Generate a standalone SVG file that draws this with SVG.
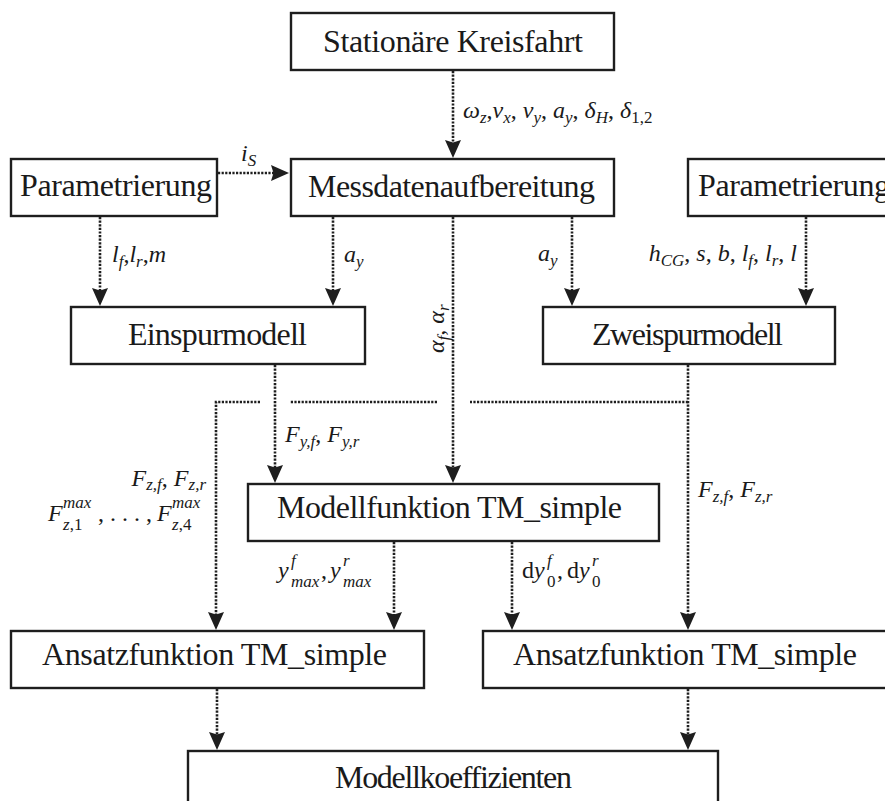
<svg xmlns="http://www.w3.org/2000/svg" width="885" height="801" viewBox="0 0 885 801">
  <style>
    .box { fill: #ffffff; stroke: #1e1e1e; stroke-width: 2.4; }
    .lbl { font-family: "Liberation Serif", "DejaVu Serif", serif; font-size: 32px; fill: #1a1a1a; }
    .m { font-family: "Liberation Serif", "DejaVu Serif", serif; font-style: italic; font-size: 24px; fill: #1a1a1a; }
    .s { font-size: 17px; }
    .up { font-style: normal; }
    .link { fill: none; stroke: #1e1e1e; stroke-width: 2.6; stroke-dasharray: 2.2 1.4; marker-end: url(#head); }
    .plain { fill: none; stroke: #1e1e1e; stroke-width: 2.6; stroke-dasharray: 2.2 1.4; }
  </style>
  <defs>
    <marker id="head" markerUnits="userSpaceOnUse" markerWidth="22" markerHeight="22" refX="13" refY="0" viewBox="-1 -10 22 20" orient="auto" overflow="visible">
      <path d="M18,0 L0,-8 L2.5,0 L0,8 Z" fill="#1e1e1e"/>
    </marker>
  </defs>

  <rect width="885" height="801" fill="#ffffff"/>

  <!-- connectors -->
  <g id="connectors">
    <path class="link" d="M453,71 V153"/>
    <path class="link" d="M218,173 H284"/>
    <path class="link" d="M100,217 V301"/>
    <path class="link" d="M333,217 V301"/>
    <path class="link" d="M453,217 V478"/>
    <path class="link" d="M572,217 V301"/>
    <path class="link" d="M806,217 V301"/>
    <path class="link" d="M275,365 V478"/>
    <path class="link" d="M688,365 V625"/>
    <path class="plain" d="M688,402 H470"/>
    <path class="plain" d="M437,402 H290"/>
    <path class="link" d="M260,402 H216 V625"/>
    <path class="link" d="M394,542 V625"/>
    <path class="link" d="M512,542 V625"/>
    <path class="link" d="M217,689 V745"/>
    <path class="link" d="M688,689 V745"/>
  </g>

  <!-- connector labels -->
  <g id="labels">
    <text class="m" x="463" y="118">ω<tspan class="s" dy="5">z</tspan><tspan class="up" dy="-5">,</tspan>v<tspan class="s" dy="5">x</tspan><tspan class="up" dy="-5">, </tspan>v<tspan class="s" dy="5">y</tspan><tspan class="up" dy="-5">, </tspan>a<tspan class="s" dy="5">y</tspan><tspan class="up" dy="-5">, </tspan>δ<tspan class="s" dy="5">H</tspan><tspan class="up" dy="-5">, </tspan>δ<tspan class="s up" dy="5">1,2</tspan></text>
    <text class="m" x="241" y="161">i<tspan class="s" dy="5">S</tspan></text>
    <text class="m" x="112" y="262">l<tspan class="s" dy="5">f</tspan><tspan class="up" dy="-5">,</tspan>l<tspan class="s" dy="5">r</tspan><tspan class="up" dy="-5">,</tspan>m</text>
    <text class="m" x="344" y="262">a<tspan class="s" dy="5">y</tspan></text>
    <text class="m" x="538" y="261">a<tspan class="s" dy="5">y</tspan></text>
    <text class="m" x="797" y="261" text-anchor="end">h<tspan class="s" dy="5">CG</tspan><tspan class="up" dy="-5">, </tspan>s<tspan class="up">, </tspan>b<tspan class="up">, </tspan>l<tspan class="s" dy="5">f</tspan><tspan class="up" dy="-5">, </tspan>l<tspan class="s" dy="5">r</tspan><tspan class="up" dy="-5">, </tspan>l</text>
    <text class="m" transform="translate(444,353) rotate(-90)">α<tspan class="s" dy="5">f</tspan><tspan class="up" dy="-5">, </tspan>α<tspan class="s" dy="5">r</tspan></text>
    <text class="m" x="285" y="442">F<tspan class="s" dy="5">y,f</tspan><tspan class="up" dy="-5">, </tspan>F<tspan class="s" dy="5">y,r</tspan></text>
    <text class="m" x="206" y="486" text-anchor="end">F<tspan class="s" dy="4">z,f</tspan><tspan class="up" dy="-4">, </tspan>F<tspan class="s" dy="4">z,r</tspan></text>
    <text class="m" x="48" y="521">F</text>
    <text class="m s" x="63" y="508">max</text>
    <text class="m s" x="63" y="530">z<tspan class="up">,1</tspan></text>
    <text class="m up" x="98" y="521">, . . . ,</text>
    <text class="m" x="157" y="521">F</text>
    <text class="m s" x="172" y="508">max</text>
    <text class="m s" x="172" y="530">z<tspan class="up">,4</tspan></text>
    <text class="m" x="278" y="578">y</text>
    <text class="m s" x="291" y="566">f</text>
    <text class="m s" x="291" y="587">max</text>
    <text class="m up" x="321" y="578">,</text>
    <text class="m" x="330" y="578">y</text>
    <text class="m s" x="343" y="566">r</text>
    <text class="m s" x="343" y="587">max</text>
    <text class="m up" x="522" y="578">d</text>
    <text class="m" x="534" y="578">y</text>
    <text class="m s" x="547" y="566">f</text>
    <text class="m s up" x="547" y="587">0</text>
    <text class="m up" x="557" y="578">,</text>
    <text class="m up" x="567" y="578">d</text>
    <text class="m" x="579" y="578">y</text>
    <text class="m s" x="592" y="566">r</text>
    <text class="m s up" x="592" y="587">0</text>
    <text class="m" x="698" y="497">F<tspan class="s" dy="5">z,f</tspan><tspan class="up" dy="-5">, </tspan>F<tspan class="s" dy="5">z,r</tspan></text>
  </g>

  <!-- nodes -->
  <g id="stationaere-kreisfahrt">
    <rect class="box" x="291" y="13" width="323" height="57"/>
    <text class="lbl" x="323" y="52" textLength="260">Stationäre Kreisfahrt</text>
  </g>
  <g id="messdatenaufbereitung">
    <rect class="box" x="291" y="159" width="323" height="57"/>
    <text class="lbl" x="308" y="197" textLength="287">Messdatenaufbereitung</text>
  </g>
  <g id="parametrierung-links">
    <rect class="box" x="11" y="159" width="206" height="57"/>
    <text class="lbl" x="20" y="196" textLength="192">Parametrierung</text>
  </g>
  <g id="parametrierung-rechts">
    <rect class="box" x="688" y="159" width="220" height="57"/>
    <text class="lbl" x="698" y="196" textLength="192">Parametrierung</text>
  </g>
  <g id="einspurmodell">
    <rect class="box" x="71" y="307" width="294" height="57"/>
    <text class="lbl" x="128" y="345" textLength="179">Einspurmodell</text>
  </g>
  <g id="zweispurmodell">
    <rect class="box" x="543" y="307" width="292" height="57"/>
    <text class="lbl" x="592" y="345" textLength="191">Zweispurmodell</text>
  </g>
  <g id="modellfunktion">
    <rect class="box" x="248" y="484" width="411" height="57"/>
    <text class="lbl" x="277" y="518" textLength="345">Modellfunktion TM_simple</text>
  </g>
  <g id="ansatzfunktion-links">
    <rect class="box" x="11" y="631" width="413" height="57"/>
    <text class="lbl" x="42" y="665" textLength="345">Ansatzfunktion TM_simple</text>
  </g>
  <g id="ansatzfunktion-rechts">
    <rect class="box" x="483" y="631" width="420" height="57"/>
    <text class="lbl" x="513" y="665" textLength="344">Ansatzfunktion TM_simple</text>
  </g>
  <g id="modellkoeffizienten">
    <rect class="box" x="188" y="751" width="530" height="70"/>
    <text class="lbl" x="335" y="788" textLength="237">Modellkoeffizienten</text>
  </g>
</svg>
